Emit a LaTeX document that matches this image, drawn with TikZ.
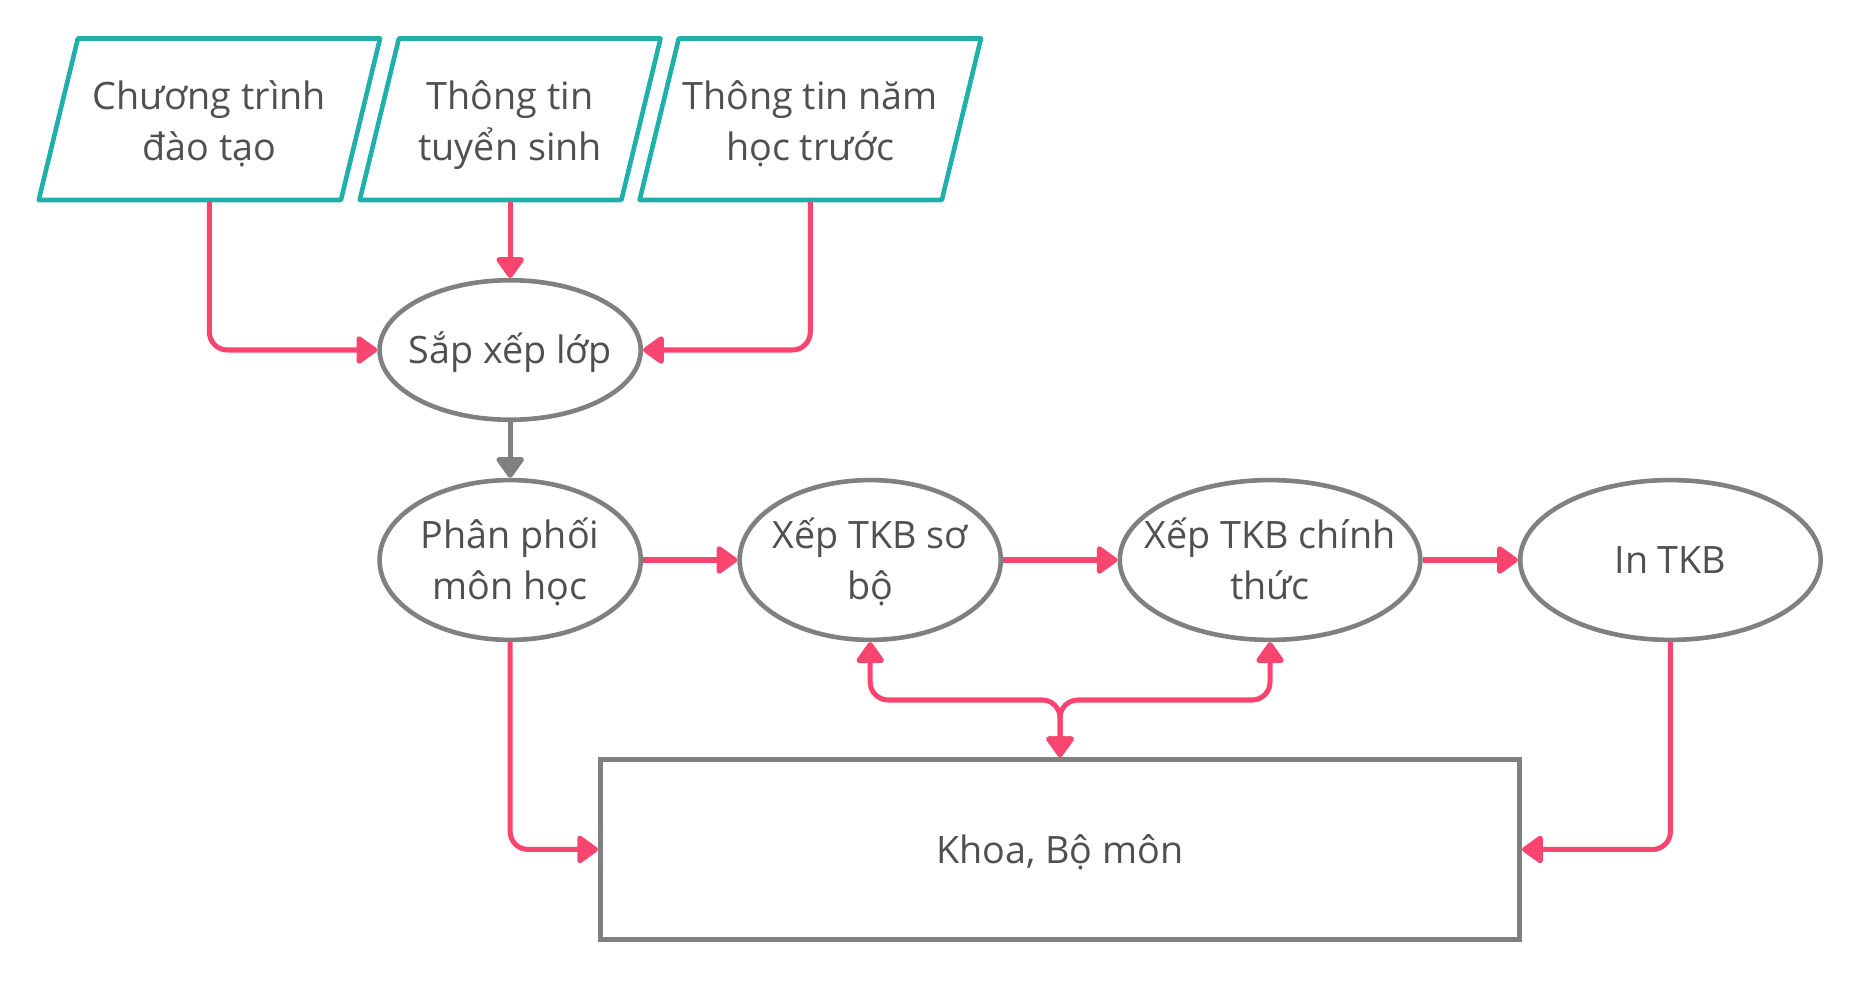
\documentclass[tikz,border=0pt]{standalone}
\usepackage{fontspec}
\setmainfont{Open Sans}
\usetikzlibrary{shapes.geometric,arrows.meta}
\definecolor{flowpink}{RGB}{247,69,112}
\definecolor{datateal}{RGB}{32,176,170}
\definecolor{linegray}{RGB}{128,128,128}
\definecolor{textgray}{RGB}{80,80,80}
\tikzset{>={Triangle[length=0.19cm,width=0.26cm,round]}}

\begin{document}
\begin{tikzpicture}[x=0.00995cm,y=-0.00995cm,
  font=\fontsize{9}{12}\selectfont,text=textgray,
  twoline/.style={text height=21.7pt,text depth=3pt},
  oneline/.style={text height=9.6pt,text depth=3pt},
  datain/.style={twoline,minimum width=2.52cm,minimum height=1.34cm,inner sep=0pt,align=center},
  task/.style={ellipse,draw=linegray,line width=1.1pt,minimum width=2.19cm,minimum height=1.34cm,inner xsep=-5pt,inner ysep=-1pt,align=center},
  unit/.style={rectangle,draw=linegray,line width=1.1pt,minimum width=7.71cm,minimum height=1.51cm},
  flow/.style={draw=flowpink,line width=1.2pt,rounded corners=0.15cm,->}]
\useasboundingbox (0,0) rectangle (1567.8,826.1);
\node[datain] (ctdt) at (176.5,102){Chương trình\\đào tạo};
\node[datain,minimum width=2.18cm] (ttts) at (430,102){Thông tin\\tuyển sinh};
\node[datain] (ttnh) at (683,102){Thông tin năm\\học trước};
\foreach \n in {ctdt,ttts,ttnh}
  \draw[datateal,line width=1.1pt,line join=round] ([xshift=0.164cm,yshift=0.015cm]\n.north west) -- ([xshift=0.164cm,yshift=0.015cm]\n.north east)
    -- ([xshift=-0.164cm,yshift=0.015cm]\n.south east) -- ([xshift=-0.164cm,yshift=0.015cm]\n.south west) -- cycle;
\node[task,oneline,minimum height=1.17cm] (sxl) at (430,295){Sắp xếp lớp};
\node[task,twoline] (ppmh) at (430,472){Phân phối\\môn học};
\node[task,twoline] (sobo) at (733.5,472){Xếp TKB sơ\\bộ};
\node[task,twoline,minimum width=2.52cm] (chinhthuc) at (1070.5,472){Xếp TKB chính\\thức};
\node[task,oneline,minimum width=2.52cm] (intkb) at (1408,472){In TKB};
\node[unit,oneline] (khoa) at (893.5,716){Khoa, Bộ môn};
\coordinate (split) at (893.5,590);
% inputs
\draw[flow] (ctdt.south) |- (sxl.west);
\draw[flow] (ttts.south) -- (sxl.north);
\draw[flow] (ttnh.south) |- (sxl.east);
\draw[linegray,line width=1.2pt,->] (sxl.south) -- (ppmh.north);
\foreach \from/\to in {ppmh/sobo,sobo/chinhthuc,chinhthuc/intkb}
  \draw[flow] (\from.east) -- (\to.west);
% outputs
\draw[flow] (ppmh.south) |- (khoa.west);
\draw[flow] (intkb.south) |- (khoa.east);
\draw[flow,<->] (sobo.south) |- (split) -- (khoa.north);
\draw[flow,<->] (chinhthuc.south) |- (split) -- (khoa.north);
\end{tikzpicture}
\end{document}
